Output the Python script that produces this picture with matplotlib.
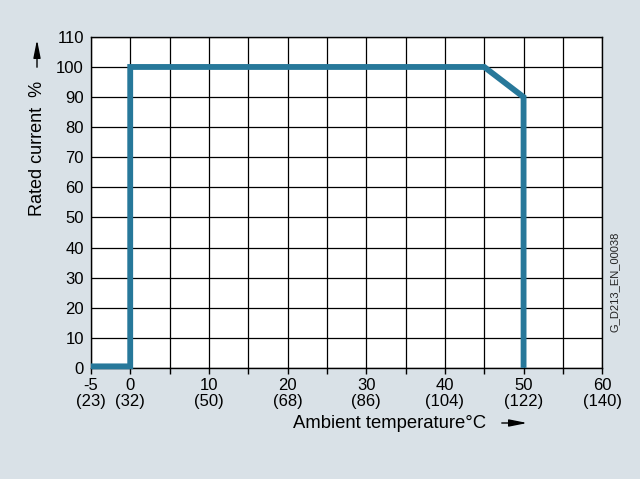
import matplotlib.pyplot as plt
from matplotlib.patches import FancyArrowPatch

plt.rcParams['font.family'] = ['Liberation Sans', 'DejaVu Sans']

# Derating curve
temp_c = [-5, 0, 0, 45, 50, 50]
current_pct = [0.5, 0.5, 100, 100, 90, 0]

# Axis ticks
x_ticks = [-5, 0, 5, 10, 15, 20, 25, 30, 35, 40, 45, 50, 55, 60]
x_labels = ['-5\n(23)', '0\n(32)', '', '10\n(50)', '', '20\n(68)', '', '30\n(86)', '',
            '40\n(104)', '', '50\n(122)', '', '60\n(140)']
y_ticks = [0, 10, 20, 30, 40, 50, 60, 70, 80, 90, 100, 110]

bg = '#d9e1e7'
blue = '#27789a'

fig = plt.figure(figsize=(6.4, 4.79), dpi=100, facecolor=bg)
ax = fig.add_axes([0.142, 0.232, 0.799, 0.691])
ax.set_facecolor('white')

ax.plot(temp_c, current_pct, color=blue, lw=4.2, solid_joinstyle='miter',
        solid_capstyle='butt', zorder=3, clip_on=False)

ax.set_xlim(-5, 60)
ax.set_ylim(0, 110)
ax.set_xticks(x_ticks)
ax.set_xticklabels(x_labels, fontsize=12, linespacing=1.05)
ax.set_yticks(y_ticks)
ax.set_yticklabels([str(v) for v in y_ticks], fontsize=12)
ax.tick_params(axis='x', length=4, width=1, color='black', pad=3.5)
ax.tick_params(axis='y', length=0, pad=5)
ax.grid(True, color='black', lw=0.9)
ax.set_axisbelow(True)
for s in ax.spines.values():
    s.set_color('black')
    s.set_linewidth(1)

# Axis titles with arrows
arrow = '-|>,head_length=0.9,head_width=0.18'
fig.text(293 / 640, 1 - 423 / 479, 'Ambient temperature°C', fontsize=13.3,
         ha='left', va='center')
fig.add_artist(FancyArrowPatch(
    (499 / 640, 1 - 423 / 479), (530 / 640, 1 - 423 / 479),
    transform=fig.transFigure, arrowstyle=arrow, mutation_scale=12,
    color='black', lw=1))
fig.text(37 / 640, 1 - 148 / 479, 'Rated current  %', fontsize=13,
         rotation=90, ha='center', va='center')
fig.add_artist(FancyArrowPatch(
    (37 / 640, 1 - 70 / 479), (37 / 640, 1 - 37 / 479),
    transform=fig.transFigure, arrowstyle=arrow, mutation_scale=12,
    color='black', lw=1))

fig.text(615 / 640, 1 - 282 / 479, 'G_D213_EN_00038', fontsize=8,
         rotation=90, ha='center', va='center', color='#222222')

fig.savefig('out.png', dpi=100, facecolor=bg)
